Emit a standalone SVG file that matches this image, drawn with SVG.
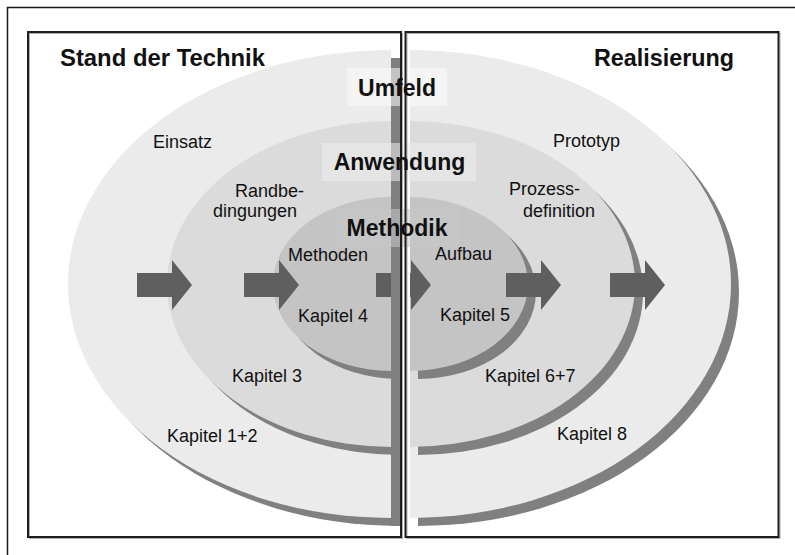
<svg xmlns="http://www.w3.org/2000/svg" width="795" height="555" viewBox="0 0 795 555">
  <style>
    .t { font-family: "Liberation Sans", Arial, sans-serif; font-size: 18px; fill: #111; }
    .b { font-family: "Liberation Sans", Arial, sans-serif; font-size: 23px; font-weight: bold; fill: #111; }
    .sh { fill: #808080; }
    .e1 { fill: #ebebeb; }
    .e2 { fill: #dbdbdb; }
    .e3 { fill: #c4c4c4; }
    .arrow { fill: #5f5f5f; }
    .panel { fill: none; stroke: #1e1e1e; stroke-width: 2; }
    .panelsh { fill: none; stroke: #b0b0b0; stroke-width: 1; }
  </style>
  <defs>
    <polygon id="arr" points="0,273 35,273 35,260 55,285 35,310 35,297 0,297"/>
  </defs>
  <rect width="795" height="555" fill="#ffffff"/>
  <rect x="7.5" y="7.5" width="820" height="580" fill="none" stroke="#1a1a1a" stroke-width="1.5"/>

  <g id="stand-der-technik">
    <path class="sh" transform="translate(8,8)" d="M391,50 A323,234 0 0 0 391,518 Z"/>
    <path class="e1" d="M391,50 A323,234 0 0 0 391,518 Z"/>
    <path class="sh" transform="translate(8,8)" d="M391,121 A224,163 0 0 0 391,447 Z"/>
    <path class="e2" d="M391,121 A224,163 0 0 0 391,447 Z"/>
    <path class="sh" transform="translate(8,8)" d="M391,197 A118,87 0 0 0 391,371 Z"/>
    <path class="e3" d="M391,197 A118,87 0 0 0 391,371 Z"/>
  </g>

  <g id="realisierung">
    <path class="sh" transform="translate(8,8)" d="M410,50 A321,234 0 0 1 410,518 Z"/>
    <path class="e1" d="M410,50 A321,234 0 0 1 410,518 Z"/>
    <path class="sh" transform="translate(8,8)" d="M410,121 A225,163 0 0 1 410,447 Z"/>
    <path class="e2" d="M410,121 A225,163 0 0 1 410,447 Z"/>
    <path class="sh" transform="translate(8,8)" d="M410,197 A118,87 0 0 1 410,371 Z"/>
    <path class="e3" d="M410,197 A118,87 0 0 1 410,371 Z"/>
  </g>

  <g id="connectors">
    <use href="#arr" class="arrow" x="137"/>
    <use href="#arr" class="arrow" x="244"/>
    <use href="#arr" class="arrow" x="376"/>
    <use href="#arr" class="arrow" x="506"/>
    <use href="#arr" class="arrow" x="610"/>
  </g>

  <g id="divider">
    <rect x="391" y="58" width="9" height="468" fill="#808080"/>
    <rect x="400" y="31" width="10" height="507" fill="#ffffff"/>
  </g>

  <g id="level-boxes">
    <rect x="347" y="68" width="100" height="38" fill="#fbfbfb" fill-opacity="0.55"/>
    <rect x="322" y="143" width="154" height="38" fill="#ececec" fill-opacity="0.55"/>
    <rect x="336" y="209" width="124" height="38" fill="#c8c8c8" fill-opacity="0.55"/>
  </g>

  <g id="panels">
    <rect class="panelsh" x="29.5" y="33.5" width="373" height="505"/>
    <rect class="panelsh" x="407" y="33.5" width="373" height="505"/>
    <rect class="panel" x="28" y="32" width="373" height="505"/>
    <rect class="panel" x="405.5" y="32" width="373" height="505"/>
  </g>

  <g id="titles">
    <text class="b" x="60" y="66" textLength="205" lengthAdjust="spacingAndGlyphs">Stand der Technik</text>
    <text class="b" x="594" y="66" textLength="140" lengthAdjust="spacingAndGlyphs">Realisierung</text>
  </g>

  <g id="umfeld"><text class="b" x="397" y="96" text-anchor="middle">Umfeld</text></g>
  <g id="anwendung"><text class="b" x="399.5" y="170" text-anchor="middle">Anwendung</text></g>
  <g id="methodik"><text class="b" x="397" y="236" text-anchor="middle">Methodik</text></g>

  <g id="labels-left">
    <text class="t" x="153" y="148">Einsatz</text>
    <text class="t" x="235" y="197">Randbe-</text>
    <text class="t" x="213" y="217">dingungen</text>
    <text class="t" x="288" y="261">Methoden</text>
    <text class="t" x="298" y="322">Kapitel 4</text>
    <text class="t" x="232" y="382">Kapitel 3</text>
    <text class="t" x="167" y="442">Kapitel 1+2</text>
  </g>
  <g id="labels-right">
    <text class="t" x="553" y="147">Prototyp</text>
    <text class="t" x="509" y="195">Prozess-</text>
    <text class="t" x="523" y="217">definition</text>
    <text class="t" x="435" y="260">Aufbau</text>
    <text class="t" x="440" y="321">Kapitel 5</text>
    <text class="t" x="485" y="382">Kapitel 6+7</text>
    <text class="t" x="557" y="440">Kapitel 8</text>
  </g>
</svg>
